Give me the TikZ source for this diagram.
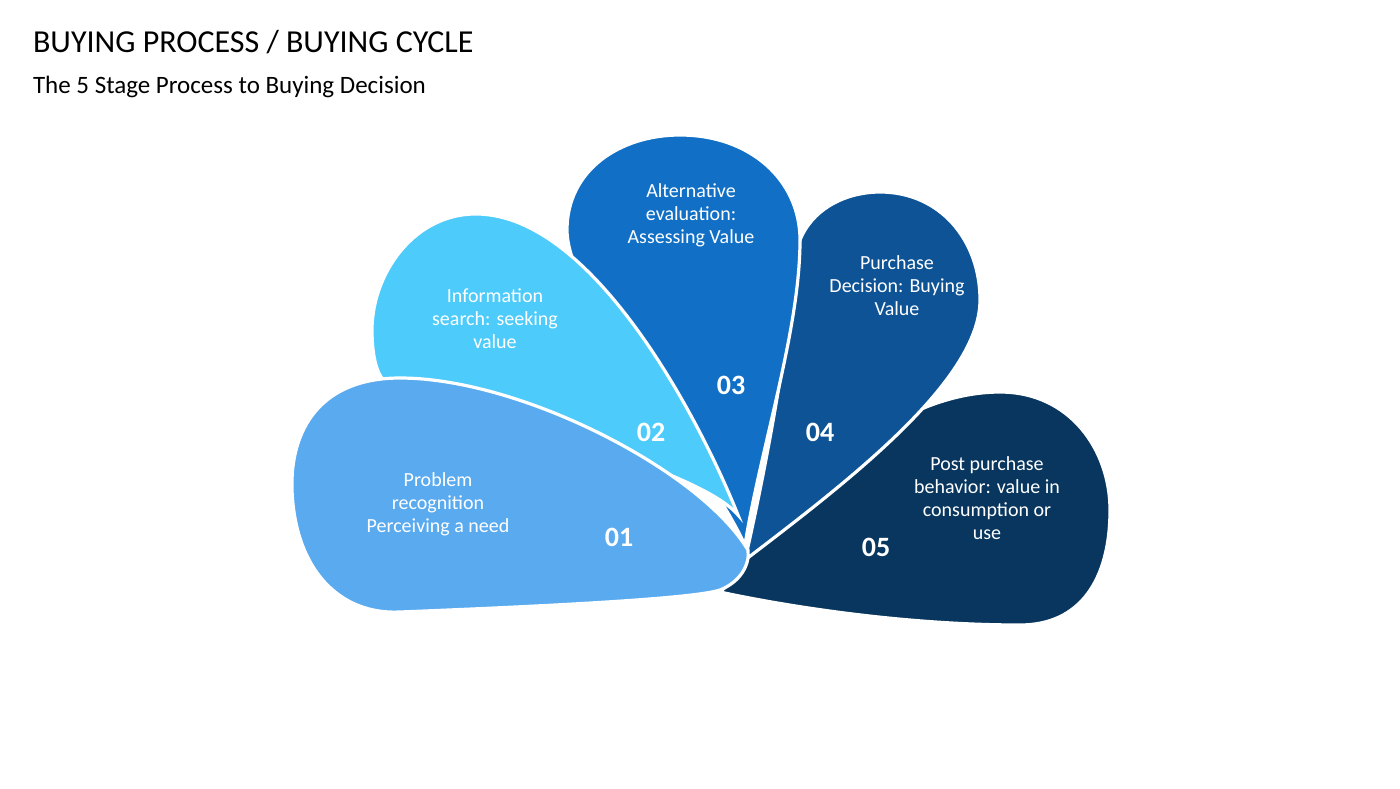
\documentclass[tikz,border=0pt]{standalone}
\usepackage{fontspec}
\setmainfont{Carlito}
\definecolor{cA}{HTML}{5AAAF0}
\definecolor{cB}{HTML}{4DCBFB}
\definecolor{cC}{HTML}{1170C6}
\definecolor{cD}{HTML}{0E5396}
\definecolor{cE}{HTML}{08365E}
\begin{document}
\begin{tikzpicture}[x=0.5pt,y=-0.5pt,
  petal/.style={draw=white,line width=1.6pt},
  ptxt/.style={text=white,font=\fontsize{10}{11.5}\selectfont,align=center},
  pnum/.style={text=white,font=\fontsize{14}{16}\selectfont\bfseries}]
\useasboundingbox (0,0) rectangle (1400,788);
\node[anchor=west,font=\fontsize{16}{18}\selectfont] (title) at (26,42) {BUYING PROCESS / BUYING CYCLE};
\node[anchor=west,font=\fontsize{12.5}{14}\selectfont] (sub) at (26,87) {The 5 Stage Process to Buying Decision};
% petal 5
\path[petal,fill=cE] (735,575) .. controls (800,480) and (900,392) .. (1000,392) .. controls (1070,392) and (1110,450) .. (1110,510) .. controls (1110,580) and (1080,625) .. (1020,625) .. controls (900,625) and (780,605) .. (720,592) .. controls (725,588) and (730,582) .. (735,575) -- cycle;
% petal 4
\path[petal,fill=cD] (745,560) .. controls (770,450) and (790,330) .. (795,260) .. controls (800,215) and (840,192) .. (880,192) .. controls (940,192) and (980,240) .. (980,300) .. controls (980,380) and (850,480) .. (745,560) -- cycle;
% petal 3
\path[petal,fill=cC] (745,545) .. controls (700,450) and (567,300) .. (567,230) .. controls (567,170) and (620,135) .. (680,135) .. controls (750,135) and (800,180) .. (800,240) .. controls (800,330) and (760,450) .. (745,545) -- cycle;
% petal 2
\path[petal,fill=cB] (738,515) .. controls (700,420) and (600,230) .. (490,215) .. controls (420,205) and (372,270) .. (372,330) .. controls (372,360) and (378,375) .. (385,382) .. controls (500,420) and (700,470) .. (738,515) -- cycle;
% petal 1
\path[petal,fill=cA] (748,550) .. controls (700,470) and (520,378) .. (400,378) .. controls (320,378) and (290,430) .. (292,490) .. controls (295,570) and (340,615) .. (400,612) .. controls (500,608) and (690,600) .. (720,590) .. controls (740,582) and (750,565) .. (748,550) -- cycle;
\node[ptxt] (t1) at (438,504) {Problem\\recognition\\Perceiving a need};
\node[pnum] (n1) at (619,537) {01};
\node[ptxt] (t2) at (495,319) {Information\\search: seeking\\value};
\node[pnum] (n2) at (651,432) {02};
\node[ptxt] (t3) at (691,215) {Alternative\\evaluation:\\Assessing Value};
\node[pnum] (n3) at (731,385) {03};
\node[ptxt] (t4) at (897,286) {Purchase\\Decision: Buying\\Value};
\node[pnum] (n4) at (820,432) {04};
\node[ptxt] (t5) at (987,498) {Post purchase\\behavior: value in\\consumption or\\use};
\node[pnum] (n5) at (876,547) {05};
\end{tikzpicture}
\end{document}
